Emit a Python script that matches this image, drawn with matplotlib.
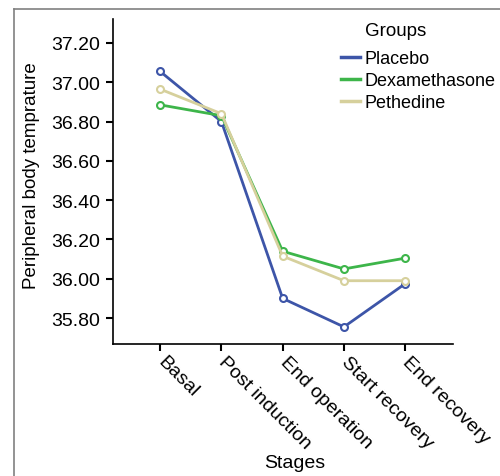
import matplotlib
matplotlib.use("Agg")
import matplotlib.pyplot as plt
from matplotlib.lines import Line2D
import matplotlib.transforms as mtransforms

plt.rcParams['font.family'] = ['Liberation Sans', 'DejaVu Sans']

stages = ["Basal", "Post induction", "End operation", "Start recovery", "End recovery"]
placebo = [37.055, 36.80, 35.90, 35.755, 35.975]
dexamethasone = [36.885, 36.83, 36.14, 36.05, 36.105]
pethedine = [36.965, 36.84, 36.115, 35.99, 35.99]
yticks = [35.80, 36.00, 36.20, 36.40, 36.60, 36.80, 37.00, 37.20]

colors = {"Placebo": "#3D55A8", "Dexamethasone": "#3DB54A", "Pethedine": "#D6D09C"}

W, H = 500, 477
fig = plt.figure(figsize=(5.0, 4.77), dpi=100)
ax = fig.add_axes([113/W, 1-345/H, (453-113)/W, (345-20)/H])

x = list(range(len(stages)))
for name, vals in [("Placebo", placebo), ("Dexamethasone", dexamethasone), ("Pethedine", pethedine)]:
    ax.plot(x, vals, color=colors[name], lw=2, marker='o', ms=5, mfc='white',
            mec=colors[name], mew=1.5, label=name)

ax.set_xlim(-0.77, 4.78)
ax.set_ylim(35.668, 37.322)
ax.set_yticks(yticks)
ax.set_yticklabels([f"{v:.2f}" for v in yticks], fontsize=14)
ax.set_xticks(x)
ax.set_xticklabels([""] * len(stages))
offset = mtransforms.ScaledTranslation(6/100, -9/100, fig.dpi_scale_trans)
for xi, name in zip(x, stages):
    ax.text(xi, 0, name, transform=ax.get_xaxis_transform() + offset, rotation=-45,
            ha='left', va='top', rotation_mode='anchor', fontsize=14)
ax.tick_params(axis='both', direction='out', length=5, width=1.5, color='black')
ax.tick_params(axis='y', pad=4)
for s in ['top', 'right']:
    ax.spines[s].set_visible(False)
for s in ['left', 'bottom']:
    ax.spines[s].set_linewidth(1.2)
ax.set_ylabel("Peripheral body temprature", fontsize=13.5, va='center')
ax.yaxis.set_label_coords((32-113)/340, (345-176)/325)
ax.set_xlabel("Stages", fontsize=14, va='center')
ax.xaxis.set_label_coords((295-113)/340, -(464-345)/325)

handles = [Line2D([0], [0], color=colors[n], lw=2.5) for n in colors]
leg = fig.legend(handles, list(colors.keys()), loc='upper left',
                 bbox_to_anchor=(341/W, 1-51/H), bbox_transform=fig.transFigure,
                 frameon=False, fontsize=13, handlelength=1.05, handletextpad=0.25,
                 labelspacing=0.28, borderaxespad=0, borderpad=0)
fig.text(365/W, 1-31/H, "Groups", fontsize=13.5, ha='left', va='center')

# outer frame
fig.add_artist(Line2D([14/W, 1.0], [1-10/H, 1-10/H], transform=fig.transFigure, color='#808080', lw=1.2))
fig.add_artist(Line2D([14/W, 14/W], [0, 1-10/H], transform=fig.transFigure, color='#808080', lw=1.2))

fig.savefig("out.png", dpi=100)
